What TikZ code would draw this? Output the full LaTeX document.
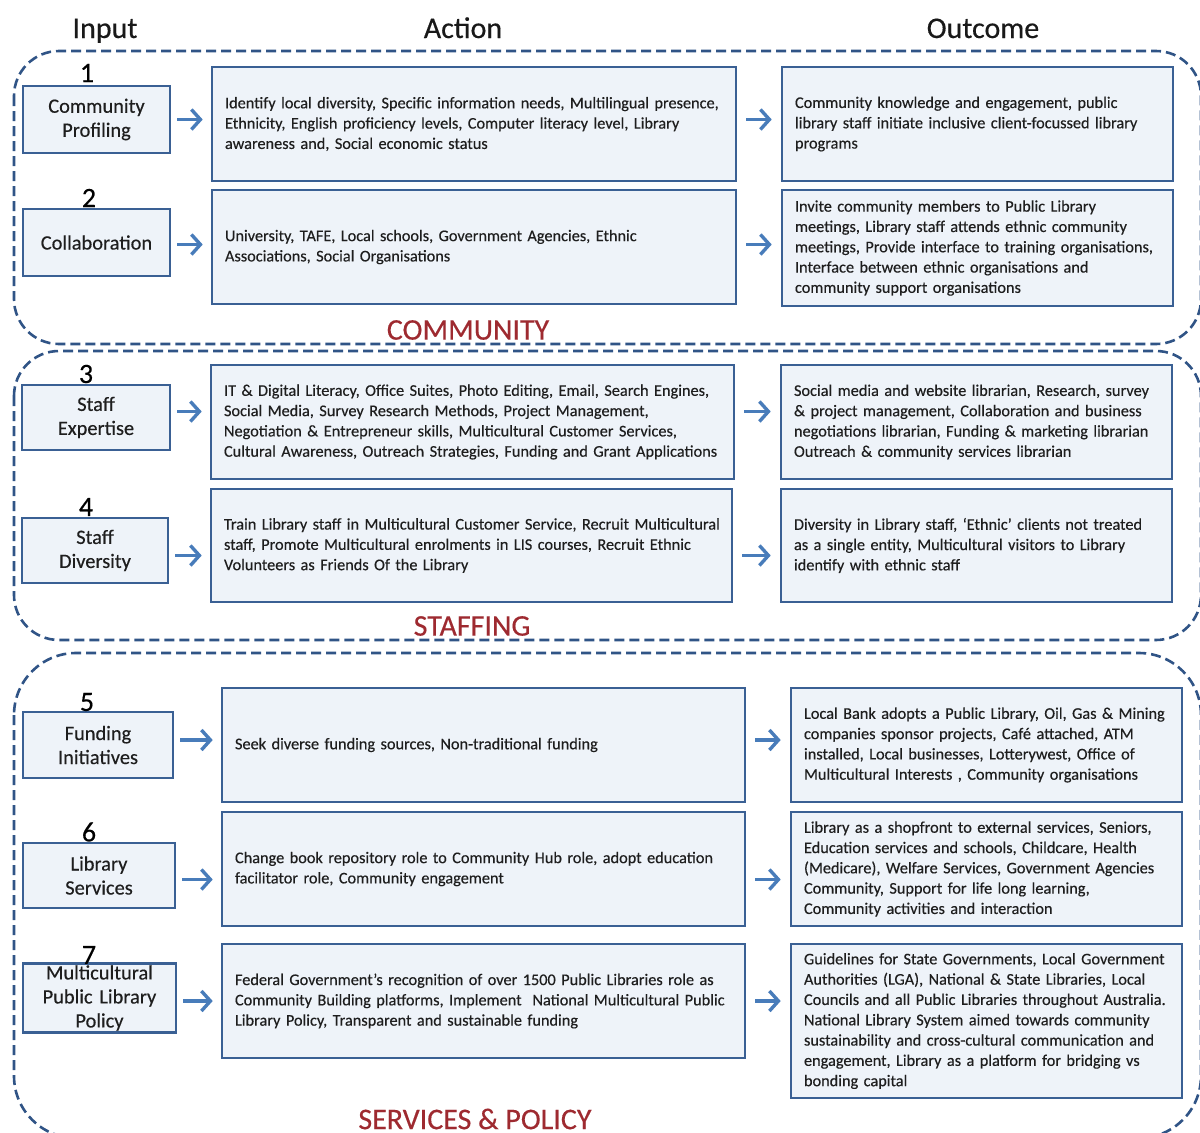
\documentclass[tikz,border=0pt]{standalone}
\usepackage{fontspec}
\setmainfont{Carlito}[FakeBold=0.35]
\usetikzlibrary{arrows.meta}
\definecolor{boxfill}{RGB}{238,243,249}
\definecolor{boxline}{RGB}{58,96,148}
\definecolor{grpline}{RGB}{48,84,134}
\definecolor{arrcol}{RGB}{72,124,186}
\definecolor{seccol}{RGB}{158,42,48}
\definecolor{txt}{RGB}{30,30,30}
\tikzset{
  base/.style={draw=boxline, fill=boxfill, line width=2.6pt, inner xsep=13pt, inner ysep=2pt, text=txt},
  actbox/.style={base, align=left, font=\fontsize{16.3}{20.3}\selectfont},
  inbox/.style={base, align=center, inner xsep=4pt, font=\fontsize{20.4}{24}\selectfont},
  num/.style={font=\fontsize{28}{30}\selectfont, text=black, inner sep=0pt},
  head/.style={font=\fontsize{30}{32}\selectfont, text=black!90, inner sep=0pt, anchor=base},
  sec/.style={font=\fontsize{30}{32}\selectfont, text=seccol, inner sep=0pt},
  grp/.style={draw=grpline, line width=2.6pt, dash pattern=on 10pt off 5pt},
  arr/.style={draw=arrcol, line width=3.6pt, -{Straight Barb[length=9pt,width=20pt,line width=3.4pt]}},
}
\newcommand\mkbox[7]{%
  \pgfmathsetmacro\bw{#5-#3}\pgfmathsetmacro\bh{#6-#4}\pgfmathsetmacro\tw{#5-#3-26}%
  \node[#1, minimum width=\bw pt, minimum height=\bh pt, text width=\tw pt] (#2) at ({(#3+#5)/2},{(#4+#6)/2}) {#7};}
\newcommand\mkin[7]{%
  \pgfmathsetmacro\bw{#5-#3}\pgfmathsetmacro\bh{#6-#4}\pgfmathsetmacro\tw{#5-#3-8}%
  \node[#1, minimum width=\bw pt, minimum height=\bh pt, text width=\tw pt] (#2) at ({(#3+#5)/2},{(#4+#6)/2}) {#7};}
\begin{document}
\begin{tikzpicture}[x=1pt,y=-1pt]
\useasboundingbox (0,0) rectangle (1200,1133);
\fill[white] (0,0) rectangle (1200,1133);
% groups
\draw[grp, rounded corners=45pt] (14,51) rectangle (1201,344);
\draw[grp, rounded corners=45pt] (14,351) rectangle (1201,640);
\draw[grp, rounded corners=62pt] (14,653) rectangle (1201,1138);
% headings
\node[head] (hin) at (105,38) {Input};
\node[head] (hact) at (463,38) {Action};
\node[head] (hout) at (983,38) {Outcome};
% section labels
\node[sec] (s1) at (468,330) {COMMUNITY};
\node[sec] (s2) at (472,626) {STAFFING};
\node[sec] (s3) at (475,1119) {SERVICES \& POLICY};
% input boxes
\mkin{inbox}{i1}{23}{86}{170}{153}{Community\\Profiling}
\mkin{inbox}{i2}{23}{209}{170}{276}{Collaboration}
\mkin{inbox}{i3}{22}{385}{170}{450}{Staff\\Expertise}
\mkin{inbox}{i4}{22}{518}{168}{583}{Staff\\Diversity}
\mkin{inbox}{i5}{23}{712}{173}{778}{Funding\\Initiatives}
\mkin{inbox}{i6}{23}{843}{175}{908}{Library\\Services}
\mkin{inbox}{i7}{23}{965}{176}{1031}{Multicultural\\Public Library\\Policy}
% numbers
\node[num] (n1) at (87,73) {1};
\node[num] (n2) at (89,198) {2};
\node[num] (n3) at (86,374) {3};
\node[num] (n4) at (86,507) {4};
\node[num] (n5) at (87,702) {5};
\node[num] (n6) at (89,832) {6};
\node[num] (n7) at (89,955) {7};
% action boxes
\mkbox{actbox}{a1}{212}{67}{736}{181}{\mbox{Identify local diversity, Specific information needs, Multilingual presence,}\\\mbox{Ethnicity, English proficiency levels, Computer literacy level, Library}\\\mbox{awareness and, Social economic status}}
\mkbox{actbox}{a2}{212}{190}{736}{304}{\mbox{University, TAFE, Local schools, Government Agencies, Ethnic}\\\mbox{Associations, Social Organisations}}
\mkbox{actbox}{a3}{211}{365}{734}{479}{\mbox{IT \& Digital Literacy, Office Suites, Photo Editing, Email, Search Engines,}\\\mbox{Social Media, Survey Research Methods, Project Management,}\\\mbox{Negotiation \& Entrepreneur skills, Multicultural Customer Services,}\\\mbox{Cultural Awareness, Outreach Strategies, Funding and Grant Applications}}
\mkbox{actbox}{a4}{211}{489}{732}{602}{\mbox{Train Library staff in Multicultural Customer Service, Recruit Multicultural}\\\mbox{staff, Promote Multicultural enrolments in LIS courses, Recruit Ethnic}\\\mbox{Volunteers as Friends Of the Library}}
\mkbox{actbox}{a5}{222}{688}{745}{802}{\mbox{Seek diverse funding sources, Non-traditional funding}}
\mkbox{actbox}{a6}{222}{812}{745}{926}{\mbox{Change book repository role to Community Hub role, adopt education}\\\mbox{facilitator role, Community engagement}}
\mkbox{actbox}{a7}{222}{944}{745}{1058}{\mbox{Federal Government’s recognition of over 1500 Public Libraries role as}\\\mbox{Community Building platforms, Implement\ \ National Multicultural Public}\\\mbox{Library Policy, Transparent and sustainable funding}}
% outcome boxes
\mkbox{actbox}{o1}{782}{67}{1173}{181}{\mbox{Community knowledge and engagement, public}\\\mbox{library staff initiate inclusive client-focussed library}\\\mbox{programs}}
\mkbox{actbox}{o2}{782}{190}{1173}{306}{\mbox{Invite community members to Public Library}\\\mbox{meetings, Library staff attends ethnic community}\\\mbox{meetings, Provide interface to training organisations,}\\\mbox{Interface between ethnic organisations and}\\\mbox{community support organisations}}
\mkbox{actbox}{o3}{781}{365}{1172}{479}{\mbox{Social media and website librarian, Research, survey}\\\mbox{\& project management, Collaboration and business}\\\mbox{negotiations librarian, Funding \& marketing librarian}\\\mbox{Outreach \& community services librarian}}
\mkbox{actbox}{o4}{781}{489}{1172}{602}{\mbox{Diversity in Library staff, ‘Ethnic’ clients not treated}\\\mbox{as a single entity, Multicultural visitors to Library}\\\mbox{identify with ethnic staff}}
\mkbox{actbox}{o5}{791}{688}{1182}{802}{\mbox{Local Bank adopts a Public Library, Oil, Gas \& Mining}\\\mbox{companies sponsor projects, Café attached, ATM}\\\mbox{installed, Local businesses, Lotterywest, Office of}\\\mbox{Multicultural Interests , Community organisations}}
\mkbox{actbox}{o6}{791}{812}{1182}{926}{\mbox{Library as a shopfront to external services, Seniors,}\\\mbox{Education services and schools, Childcare, Health}\\\mbox{(Medicare), Welfare Services, Government Agencies}\\\mbox{Community, Support for life long learning,}\\\mbox{Community activities and interaction}}
\mkbox{actbox}{o7}{791}{944}{1182}{1098}{\mbox{Guidelines for State Governments, Local Government}\\\mbox{Authorities (LGA), National \& State Libraries, Local}\\\mbox{Councils and all Public Libraries throughout Australia.}\\\mbox{National Library System aimed towards community}\\\mbox{sustainability and cross-cultural communication and}\\\mbox{engagement, Library as a platform for bridging vs}\\\mbox{bonding capital}}
% arrows
\foreach \k/\dy in {1/0,2/-2,3/6,4/-5,5/5,6/-4,7/-3}{
  \draw[arr] ([xshift=6pt,yshift=\dy pt]i\k.east) -- ([xshift=-8pt,yshift=\dy pt]i\k.east -| a\k.west);
  \draw[arr] ([xshift=9pt,yshift=\dy pt]a\k.east |- i\k.east) -- ([xshift=-9pt,yshift=\dy pt]o\k.west |- i\k.east);
}
\end{tikzpicture}
\end{document}
